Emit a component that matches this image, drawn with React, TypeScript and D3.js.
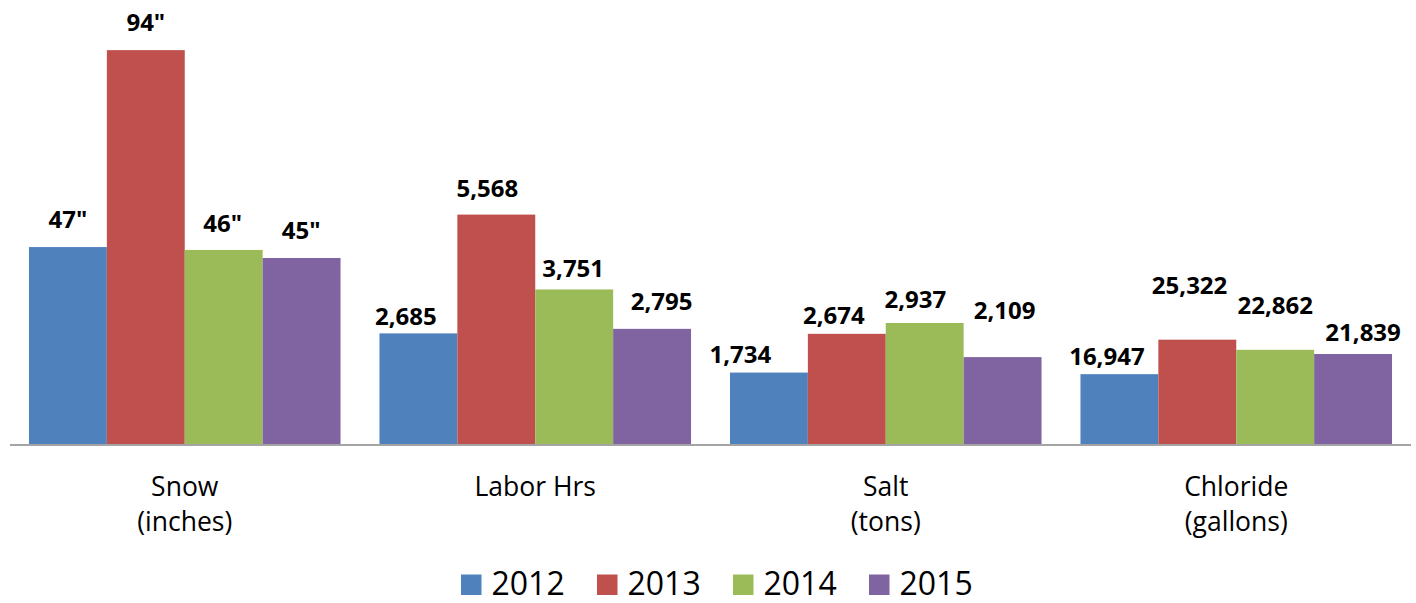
import React from "react";
import * as d3 from "d3";

const categories = ["Snow\n(inches)", "Labor Hrs", "Salt\n(tons)", "Chloride\n(gallons)"];
const years = ["2012", "2013", "2014", "2015"];

// Displayed values (data labels), per year across categories
const labels2012 = ["47\"", "2,685", "1,734", "16,947"];
const labels2013 = ["94\"", "5,568", "2,674", "25,322"];
const labels2014 = ["46\"", "3,751", "2,937", "22,862"];
const labels2015 = ["45\"", "2,795", "2,109", "21,839"];

// Plotted values on the chart's common (unlabelled) value axis
const values2012 = [4780, 2685, 1734, 1695];
const values2013 = [9560, 5568, 2674, 2532];
const values2014 = [4710, 3751, 2937, 2286];
const values2015 = [4515, 2795, 2109, 2184];

const yDomainMax = 10000;

// Manual label nudges (dx from bar centre, baseline gap above bar top)
const labelDx = [
  [0, -12.5, -28.5, -12.5],
  [0, -9, -13, -7.7],
  [-1, -1, -9.3, 0],
  [-0.5, 9.5, 2, 10],
];
const labelGap = [
  [19.5, 8.3, 9.7, 9.3],
  [18.7, 18, 9.4, 45.7],
  [18.3, 12.6, 14.7, 35.7],
  [19, 18.6, 38.4, 12.6],
];

const colors = ["#4F81BD", "#C0504D", "#9BBB59", "#8064A2"];

export default function App() {
  const W = 1416;
  const H = 603;
  const baseY = 444;
  const allValues = [values2012, values2013, values2014, values2015];
  const allLabels = [labels2012, labels2013, labels2014, labels2015];

  const x0 = d3.scaleBand<string>().domain(categories).range([9.5, 1411.5]).paddingInner(0).paddingOuter(0);
  const x1 = d3
    .scaleBand<string>()
    .domain(years)
    .range([0, x0.bandwidth()])
    .paddingInner(0)
    .paddingOuter(0.25);
  const y = d3.scaleLinear().domain([0, yDomainMax]).range([baseY, baseY - 412]);

  const font = "'Open Sans', sans-serif";

  const legendX = d3.scalePoint<string>().domain(years).range([461, 869]);

  return (
    <svg
      width={W}
      height={H}
      style={{ position: "absolute", left: 0, top: 0, background: "#fff" }}
      fontFamily={font}
    >
      <rect x={0} y={0} width={W} height={H} fill="#fff" />
      {categories.map((c, ci) => (
        <g key={c}>
          {years.map((yr, si) => {
            const v = allValues[si][ci];
            const bx = (x0(c) ?? 0) + (x1(yr) ?? 0);
            const bw = x1.bandwidth();
            const top = y(v);
            return (
              <g key={yr}>
                <rect x={bx} y={top} width={bw} height={baseY - top} fill={colors[si]} />
                <text
                  x={bx + bw / 2 + labelDx[si][ci]}
                  y={top - labelGap[si][ci]}
                  textAnchor="middle"
                  fontSize={24}
                  fontWeight="bold"
                  fill="#000"
                >
                  {allLabels[si][ci]}
                </text>
              </g>
            );
          })}
          <text
            x={(x0(c) ?? 0) + x0.bandwidth() / 2}
            y={495.7}
            textAnchor="middle"
            fontSize={26.5}
            fill="#000"
          >
            {c.split("\n").map((line, li) => (
              <tspan key={li} x={(x0(c) ?? 0) + x0.bandwidth() / 2} dy={li === 0 ? 0 : 35.5}>
                {line}
              </tspan>
            ))}
          </text>
        </g>
      ))}
      <line x1={10} x2={1411} y1={445} y2={445} stroke="#868686" strokeWidth={1.6} />
      {years.map((yr, si) => (
        <g key={yr}>
          <rect x={legendX(yr)} y={574.5} width={20.5} height={20.5} fill={colors[si]} />
          <text x={(legendX(yr) ?? 0) + 30.5} y={594.5} fontSize={32} fill="#000">
            {yr}
          </text>
        </g>
      ))}
    </svg>
  );
}
